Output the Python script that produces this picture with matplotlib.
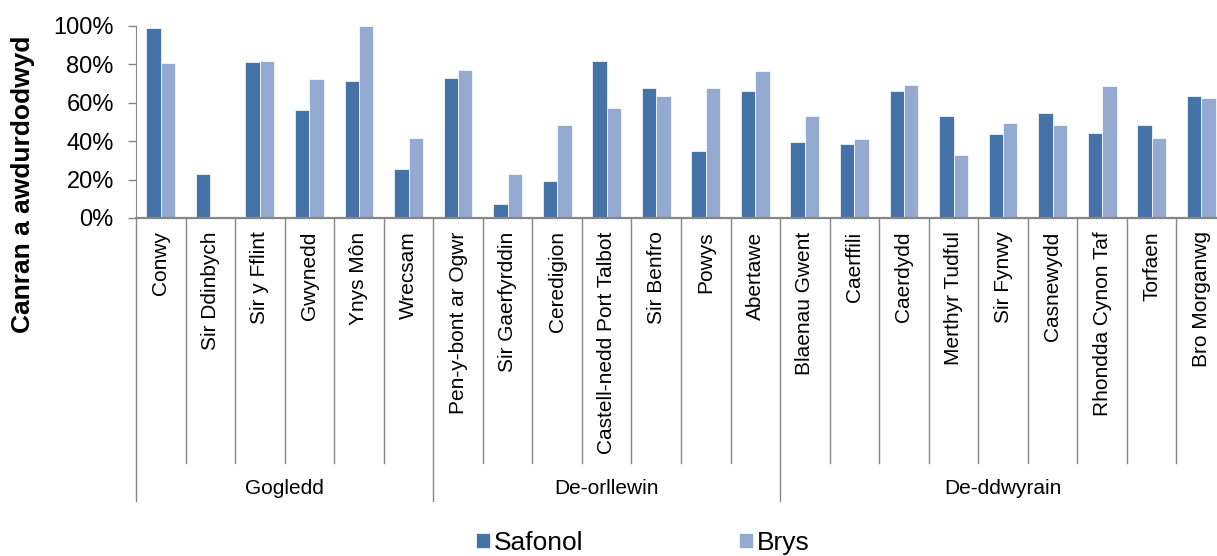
import matplotlib
matplotlib.use("Agg")
import matplotlib.pyplot as plt
from matplotlib.transforms import blended_transform_factory
from matplotlib.ticker import PercentFormatter
import numpy as np

plt.rcParams["font.family"] = ["Liberation Sans", "DejaVu Sans"]

# ── data ────────────────────────────────────────────────
areas = ["Conwy", "Sir Ddinbych", "Sir y Fflint", "Gwynedd", "Ynys Môn", "Wrecsam",
         "Pen-y-bont ar Ogwr", "Sir Gaerfyrddin", "Ceredigion", "Castell-nedd Port Talbot",
         "Sir Benfro", "Powys", "Abertawe",
         "Blaenau Gwent", "Caerffili", "Caerdydd", "Merthyr Tudful", "Sir Fynwy",
         "Casnewydd", "Rhondda Cynon Taf", "Torfaen", "Bro Morganwg"]
regions = ["Gogledd", "De-orllewin", "De-ddwyrain"]
region_sizes = [6, 7, 9]

safonol = [0.988, 0.231, 0.812, 0.565, 0.713, 0.257,
           0.729, 0.071, 0.195, 0.816, 0.678, 0.351, 0.663,
           0.398, 0.384, 0.663, 0.532, 0.438, 0.548, 0.442, 0.482, 0.635]
brys = [0.809, 0.0, 0.816, 0.725, 1.0, 0.416,
        0.772, 0.228, 0.482, 0.572, 0.635, 0.678, 0.765,
        0.529, 0.410, 0.692, 0.330, 0.497, 0.482, 0.689, 0.419, 0.626]

dark_blue = "#4573a7"
light_blue = "#95aad1"
grey = "#868686"

W, H = 1217, 556
fig = plt.figure(figsize=(W / 100, H / 100), dpi=100)
ax = fig.add_axes([136 / W, 1 - 218 / H, 1090 / W, 192 / H])

x = np.arange(len(areas))
bw = 0.29
ax.bar(x - bw / 2, safonol, bw, color=dark_blue, edgecolor="white", lw=0.5, label="Safonol")
ax.bar(x + bw / 2, brys, bw, color=light_blue, edgecolor="white", lw=0.5, label="Brys")

ax.set_xlim(-0.5, len(areas) - 0.5)
ax.set_ylim(0, 1)
ax.set_yticks(np.arange(0, 1.01, 0.2))
ax.yaxis.set_major_formatter(PercentFormatter(1.0, decimals=0))
ax.tick_params(axis="y", labelsize=17, length=6, width=1, color=grey, pad=10)
ax.set_xticks([])

for s in ["top", "right"]:
    ax.spines[s].set_visible(False)
ax.spines["left"].set_color(grey)
ax.spines["bottom"].set_color(grey)
ax.spines["bottom"].set_linewidth(1.6)

# y title sits lower than the axes centre, as in the original
fig.text(23 / W, 1 - 184 / H, "Canran a awdurdodwyd", rotation=90,
         ha="center", va="center", fontsize=19, fontweight="bold")

# ── multi-level category axis ───────────────────────────
tr = blended_transform_factory(ax.transData, ax.transAxes)
for i, name in enumerate(areas):
    ax.text(i, -0.07, name, transform=tr, rotation=90, ha="center", va="top",
            fontsize=15, clip_on=False)

group_edges = np.concatenate([[0], np.cumsum(region_sizes)])
for k in range(len(areas) + 1):
    y_end = -1.474 if k in group_edges else -1.276
    ax.plot([k - 0.5, k - 0.5], [0, y_end], transform=tr, color=grey, lw=1,
            clip_on=False)

for g, name in enumerate(regions):
    mid = (group_edges[g] + group_edges[g + 1]) / 2 - 0.5
    ax.text(mid, -1.41, name, transform=tr, ha="center", va="center",
            fontsize=15, clip_on=False)

fig.legend(loc="center left", bbox_to_anchor=(476 / W, 1 - 543 / H), ncol=2,
           frameon=False, fontsize=19, handlelength=0.53, handleheight=0.53,
           handletextpad=0.15, columnspacing=5.9, borderpad=0, borderaxespad=0)

fig.savefig("out.png", dpi=100)
